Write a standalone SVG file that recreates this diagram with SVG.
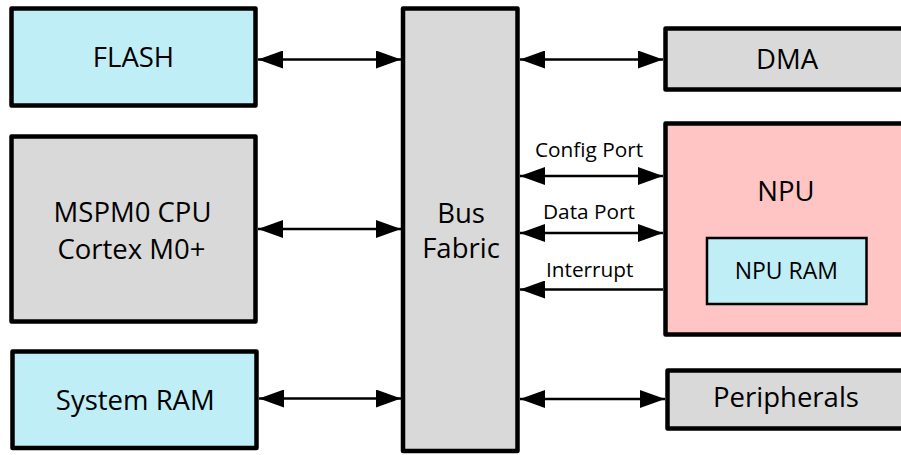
<svg xmlns="http://www.w3.org/2000/svg" width="901" height="455" viewBox="0 0 901 455">
  <style>
    .box { stroke: #000; stroke-width: 4.5; stroke-linejoin: round; }
    .cyan { fill: #BFEEF6; }
    .gray { fill: #D9D9D9; }
    .pink { fill: #FFC4C4; }
    .t { font-family: "Open Sans", "Noto Sans", sans-serif; fill: #000; text-anchor: middle; }
    .main { font-size: 27.5px; }
    .lbl { font-size: 20.8px; }
    .conn { stroke: #000; stroke-width: 2.5; fill: none; }
  </style>
  <defs>
    <marker id="ah" viewBox="0 0 25 18" refX="25" refY="9" markerWidth="25" markerHeight="18" markerUnits="userSpaceOnUse" orient="auto-start-reverse">
      <path d="M0,0 L25,9 L0,18 Z" fill="#000"/>
    </marker>
  </defs>
  <rect width="901" height="455" fill="#fff"/>

  <g id="flash">
    <rect class="box cyan" x="11.5" y="8.5" width="244" height="97"/>
    <text class="t main" x="133.5" y="67">FLASH</text>
  </g>
  <g id="cpu">
    <rect class="box gray" x="11.5" y="136.5" width="244" height="185"/>
    <text class="t main" x="132.5" y="222.3">MSPM0 CPU</text>
    <text class="t main" x="131.5" y="259">Cortex M0+</text>
  </g>
  <g id="sysram">
    <rect class="box cyan" x="12.5" y="351.5" width="244" height="96.5"/>
    <text class="t main" x="135.3" y="410">System RAM</text>
  </g>
  <g id="bus">
    <rect class="box gray" x="403" y="8.5" width="114.5" height="442.5"/>
    <text class="t main" x="461" y="223.3">Bus</text>
    <text class="t main" x="461" y="258.3">Fabric</text>
  </g>
  <g id="dma">
    <rect class="box gray" x="665.5" y="28.5" width="250" height="61"/>
    <text class="t main" x="787" y="68.7">DMA</text>
  </g>
  <g id="npu">
    <rect class="box pink" x="665.5" y="123.5" width="250" height="211"/>
    <text class="t main" x="786" y="200.7">NPU</text>
  </g>
  <g id="npuram">
    <rect class="cyan" x="707" y="238" width="159.5" height="66" stroke="#000" stroke-width="2.5"/>
    <text class="t" font-size="23" x="786.3" y="279">NPU RAM</text>
  </g>
  <g id="peripherals">
    <rect class="box gray" x="667.5" y="370.5" width="250" height="58"/>
    <text class="t main" x="786" y="406.7">Peripherals</text>
  </g>

  <g id="connectors">
    <line class="conn" x1="258" y1="59.5" x2="401" y2="59.5" marker-start="url(#ah)" marker-end="url(#ah)"/>
    <line class="conn" x1="258" y1="229" x2="401" y2="229" marker-start="url(#ah)" marker-end="url(#ah)"/>
    <line class="conn" x1="259" y1="398.5" x2="401" y2="398.5" marker-start="url(#ah)" marker-end="url(#ah)"/>
    <line class="conn" x1="520" y1="59.5" x2="663" y2="59.5" marker-start="url(#ah)" marker-end="url(#ah)"/>
    <line class="conn" x1="520" y1="176" x2="663" y2="176" marker-start="url(#ah)" marker-end="url(#ah)"/>
    <line class="conn" x1="520" y1="233" x2="663" y2="233" marker-start="url(#ah)" marker-end="url(#ah)"/>
    <line class="conn" x1="663" y1="289.5" x2="520" y2="289.5" marker-end="url(#ah)"/>
    <line class="conn" x1="520" y1="399" x2="665" y2="399" marker-start="url(#ah)" marker-end="url(#ah)"/>
    <text class="t lbl" x="589" y="156.7">Config Port</text>
    <text class="t lbl" x="589" y="219.3">Data Port</text>
    <text class="t lbl" x="589.7" y="276.7">Interrupt</text>
  </g>
</svg>
